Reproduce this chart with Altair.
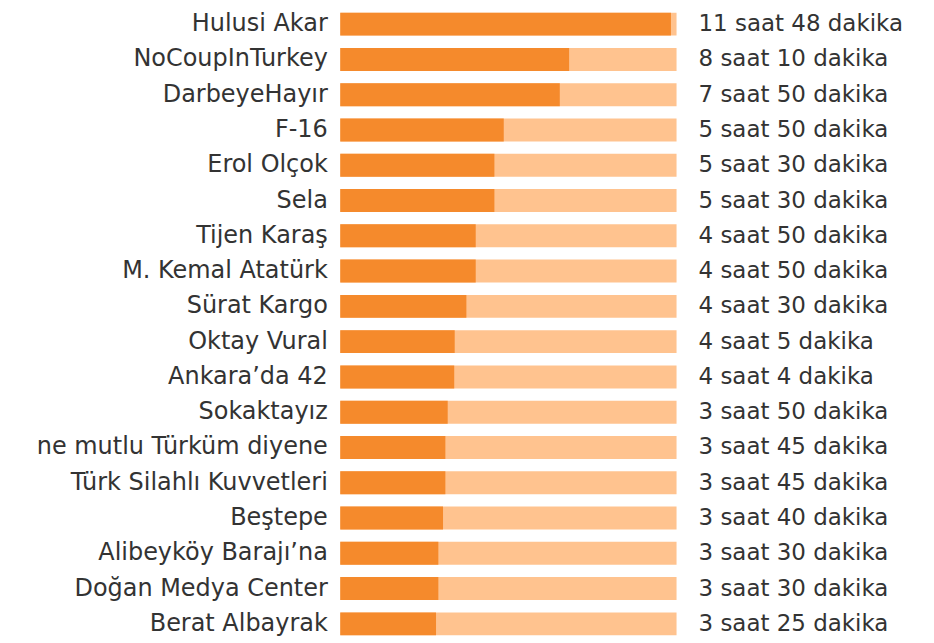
import altair as alt
import pandas as pd

names = ["Hulusi Akar", "NoCoupInTurkey", "DarbeyeHayır", "F-16", "Erol Olçok", "Sela",
         "Tijen Karaş", "M. Kemal Atatürk", "Sürat Kargo", "Oktay Vural", "Ankara’da 42",
         "Sokaktayız", "ne mutlu Türküm diyene", "Türk Silahlı Kuvvetleri", "Beştepe",
         "Alibeyköy Barajı’na", "Doğan Medya Center", "Berat Albayrak"]
hours = [11, 8, 7, 5, 5, 5, 4, 4, 4, 4, 4, 3, 3, 3, 3, 3, 3, 3]
mins = [48, 10, 50, 50, 30, 30, 50, 50, 30, 5, 4, 50, 45, 45, 40, 30, 30, 25]
total_max = 720  # 12 hours, full length of the pale track

df = pd.DataFrame({
    "name": names,
    "minutes": [h * 60 + m for h, m in zip(hours, mins)],
    "label": [f"{h} saat {m} dakika" for h, m in zip(hours, mins)],
    "total": [total_max] * len(names),
})

FONT = "DejaVu Sans"
TXT = "#333333"

y = alt.Y("name:N", sort=names, title=None,
          scale=alt.Scale(paddingInner=0.35, paddingOuter=0),
          axis=alt.Axis(domain=False, ticks=False, labelFontSize=24, labelFont=FONT,
                        labelColor=TXT, labelPadding=13, labelLimit=500))
xs = alt.Scale(domain=[0, total_max], nice=False, zero=True)

base = alt.Chart(df)
track = base.mark_bar(color="#FFC38F", cornerRadius=0).encode(
    x=alt.X("total:Q", scale=xs, axis=None), y=y)
bar = base.mark_bar(color="#F58A2C").encode(
    x=alt.X("minutes:Q", scale=xs, axis=None), y=y)
text = base.mark_text(align="left", baseline="middle", dx=22, font=FONT,
                      fontSize=23, color=TXT).encode(
    x=alt.X("total:Q", scale=xs, axis=None), y=y, text="label:N")

chart = alt.layer(track, bar, text).properties(
    width=337, height=624,
    autosize=alt.AutoSizeParams(type="none"),
    padding={"left": 333, "top": 4, "right": 250, "bottom": 6},
    background="white",
).configure_view(stroke=None)

chart.save("out.html", embed_options={"renderer": "svg", "actions": False})
